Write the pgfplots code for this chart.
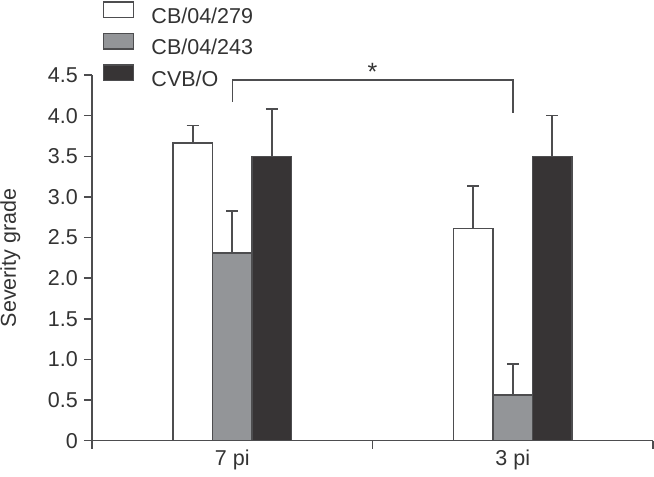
\documentclass[border=0pt]{standalone}
\usepackage{fontspec}
\setmainfont{Liberation Sans}
\usepackage{pgfplots}
\pgfplotsset{compat=1.18}
\definecolor{edge}{HTML}{4D4D4F}
\definecolor{midgray}{HTML}{939598}
\definecolor{darkbar}{HTML}{373435}
\definecolor{txt}{HTML}{333333}
\newcommand\chartfont{\fontsize{21.5bp}{25bp}\selectfont}

\begin{document}
\chartfont
\begin{tikzpicture}
\useasboundingbox (-92bp,-36.3bp) rectangle (562bp,440.7bp);
\begin{axis}[
    scale only axis,
    width=561bp, height=365.7bp,
    at={(0,0)}, anchor=south west,
    ybar=0pt, bar width=39.5bp,
    xmin=0, xmax=2, ymin=0, ymax=4.5,
    clip=false,
    axis lines*=left,
    axis line style={draw=edge, line width=1.5bp},
    tick style={draw=edge, line width=1.5bp},
    tick align=outside,
    major tick length=8bp,
    xtick={0,1,2},
    xticklabels={7 pi,3 pi},
    x tick label as interval,
    ytick={0,0.5,1,1.5,2,2.5,3,3.5,4,4.5},
    yticklabels={0,0.5,1.0,1.5,2.0,2.5,3.0,3.5,4.0,4.5},
    tick label style={font=\chartfont, text=txt},
    yticklabel style={inner sep=0pt, xshift=-6bp},
    xticklabel style={inner sep=0pt, yshift=-1.5bp},
    ylabel={Severity grade},
    every axis y label/.style={at={(axis description cs:-0.1355,0.5)}, rotate=90, anchor=base, font=\chartfont, text=txt},
    legend style={at={(rel axis cs:0.0196,1.201)}, anchor=north west, draw=none, fill=none,
        inner sep=0pt, outer sep=0pt, row sep=4.4bp, column sep=17bp,
        font=\chartfont, text=txt,
        nodes={inner sep=0pt, text height=15.5bp, text depth=5bp}},
    legend cell align=left,
    legend image code/.code={\draw[#1, line width=1.5bp] (0bp,0.5bp) rectangle (30bp,16bp);},
    every error bar/.append style={line width=1.7bp, draw=edge},
]
\addplot[fill=white, draw=edge, line width=1.5bp,
    error bars/.cd, y dir=plus, y explicit,
    error bar style={line width=1.7bp, draw=edge},
    error mark options={rotate=90, mark size=6bp, line width=1.7bp, draw=edge}]
    coordinates {(0.5,3.665) +- (0,0.215) (1.5,2.61) +- (0,0.52)};
\addlegendentry{CB/04/279}
\addplot[fill=midgray, draw=edge, line width=1.5bp,
    error bars/.cd, y dir=plus, y explicit,
    error bar style={line width=1.7bp, draw=edge},
    error mark options={rotate=90, mark size=6bp, line width=1.7bp, draw=edge}]
    coordinates {(0.5,2.31) +- (0,0.52) (1.5,0.56) +- (0,0.38)};
\addlegendentry{CB/04/243}
\addplot[fill=darkbar, draw=edge, line width=1.5bp,
    error bars/.cd, y dir=plus, y explicit,
    error bar style={line width=1.7bp, draw=edge},
    error mark options={rotate=90, mark size=6bp, line width=1.7bp, draw=edge}]
    coordinates {(0.5,3.5) +- (0,0.58) (1.5,3.5) +- (0,0.5)};
\addlegendentry{CVB/O}

\draw[edge, line width=1.5bp] (axis cs:0.5,4.17) |- (axis cs:1.5,4.437) -- (axis cs:1.5,4.03);
\node[anchor=base, text=txt, font=\fontsize{25bp}{28bp}\selectfont] at (axis cs:1,4.43) {*};
\end{axis}
\end{tikzpicture}
\end{document}
